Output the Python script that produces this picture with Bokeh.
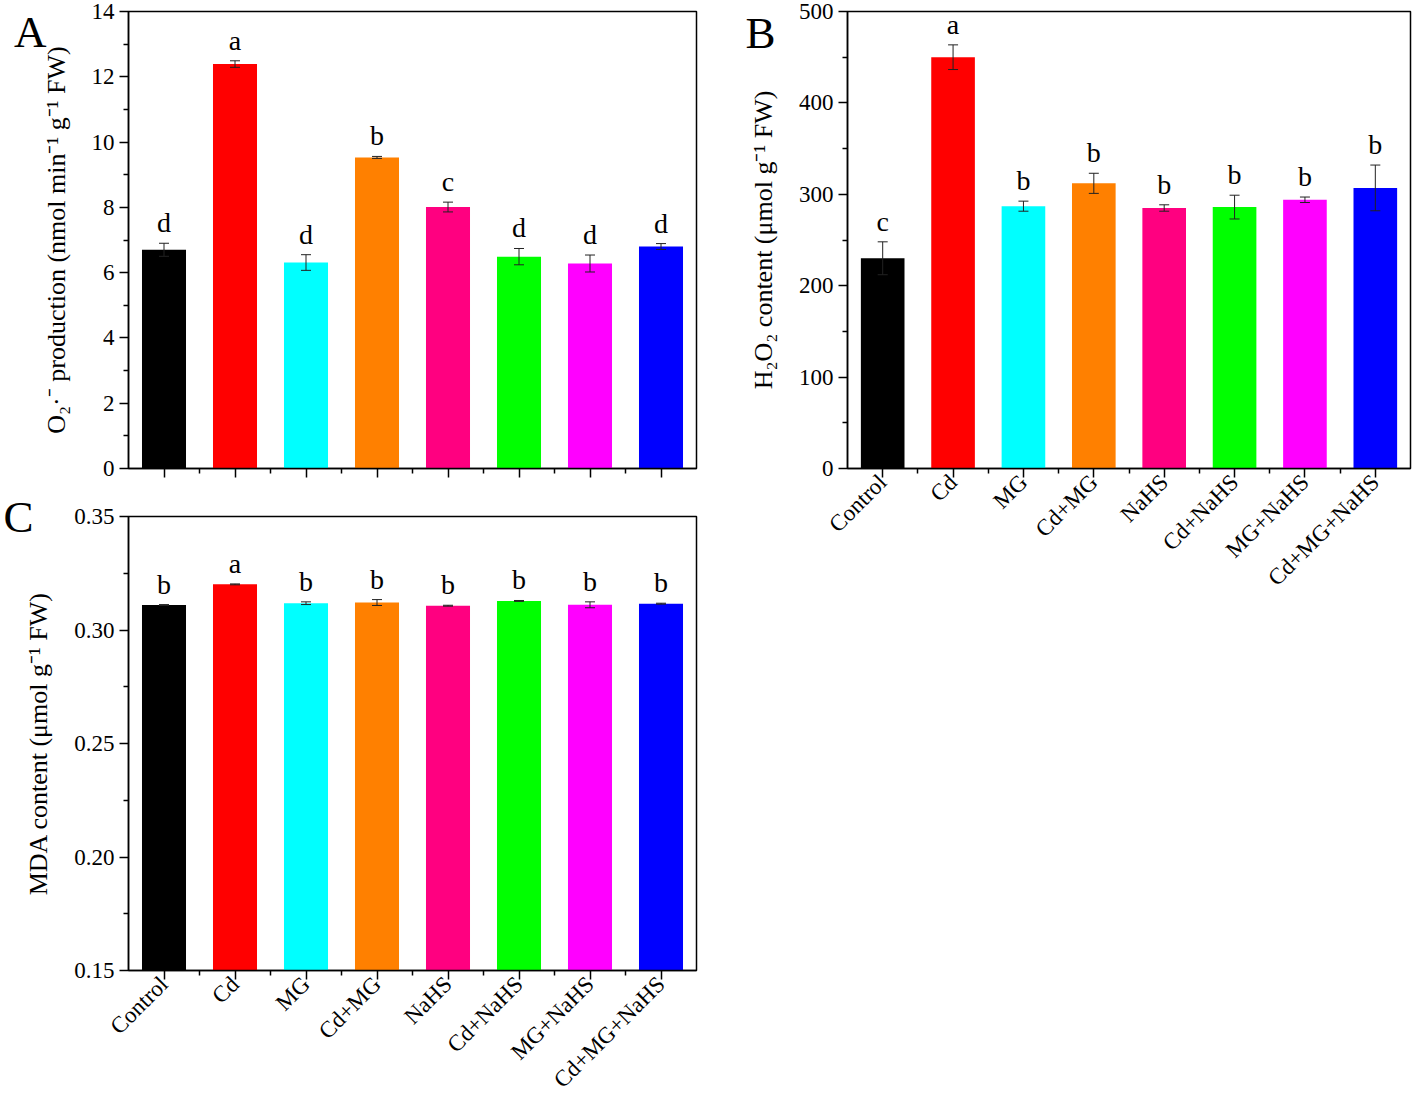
from bokeh.plotting import figure
from bokeh.layouts import row, column
from bokeh.models import (ColumnDataSource, Range1d, FixedTicker, Whisker, TeeHead,
                          LinearAxis, NumeralTickFormatter)
from bokeh.core.properties import value
from bokeh.embed import file_html
from bokeh.resources import INLINE

# ---------------- data ----------------
categories = ["Control", "Cd", "MG", "Cd+MG", "NaHS", "Cd+NaHS", "MG+NaHS", "Cd+MG+NaHS"]
bar_colors = ["#000000", "#FF0000", "#00FFFF", "#FF8000", "#FF0080", "#00FF00", "#FF00FF", "#0000FF"]

o2_mean = [6.70, 12.39, 6.31, 9.53, 8.01, 6.49, 6.28, 6.80]
o2_err = [0.20, 0.10, 0.24, 0.03, 0.15, 0.25, 0.26, 0.09]
o2_letters = ["d", "a", "d", "b", "c", "d", "d", "d"]

h2o2_mean = [230, 450, 287, 312, 285, 286, 294, 307]
h2o2_err = [18, 13.5, 5.5, 11, 3.5, 13, 3, 25]
h2o2_letters = ["c", "a", "b", "b", "b", "b", "b", "b"]

mda_mean = [0.3110, 0.3201, 0.3118, 0.3121, 0.3107, 0.3128, 0.3111, 0.3116]
mda_err = [0.0002, 0.0002, 0.0006, 0.0013, 0.0002, 0.0002, 0.0013, 0.0002]
mda_letters = ["b", "a", "b", "b", "b", "b", "b", "b"]

o2_ticks = [0, 2, 4, 6, 8, 10, 12, 14]
o2_minor = [1, 3, 5, 7, 9, 11, 13]
h2o2_ticks = [0, 100, 200, 300, 400, 500]
h2o2_minor = [50, 150, 250, 350, 450]
mda_ticks = [0.15, 0.20, 0.25, 0.30, 0.35]
mda_minor = [0.175, 0.225, 0.275, 0.325]

x_pos = [1, 2, 3, 4, 5, 6, 7, 8]
x_minor = [1.5, 2.5, 3.5, 4.5, 5.5, 6.5, 7.5]

FONT = "Liberation Serif"


def panel(width, height, bl, br, bt, bb, ylo, yhi, yticks, yminor, ylabel, label_standoff,
          mean, err, letters, panel_txt, panel_pos, panel_standoff, show_x, fmt=None):
    p = figure(width=width, height=height, output_backend="svg", toolbar_location=None,
               x_range=Range1d(0.5, 8.5), y_range=Range1d(ylo, yhi),
               min_border_left=bl, min_border_right=br, min_border_top=bt, min_border_bottom=bb)
    src = ColumnDataSource(dict(
        x=x_pos, top=mean,
        upper=[m + e for m, e in zip(mean, err)],
        lower=[m - e for m, e in zip(mean, err)],
        color=bar_colors, letter=letters))
    p.vbar(x="x", top="top", bottom=ylo, width=0.62, fill_color="color",
           line_color=None, source=src)
    head = dict(size=10, line_color="#222222", line_width=1)
    p.add_layout(Whisker(source=src, base="x", upper="upper", lower="lower",
                         level="annotation", line_color="#222222", line_width=1,
                         upper_head=TeeHead(**head), lower_head=TeeHead(**head)))
    p.text(x="x", y="upper", text="letter", source=src, text_align="center",
           text_baseline="bottom", y_offset=-5, text_font=value(FONT),
           text_font_size="28px", text_color="black")

    p.grid.visible = False
    p.outline_line_color = "black"
    p.outline_line_width = 1.5
    p.outline_line_alpha = 1.0

    for ax in (p.xaxis[0], p.yaxis[0]):
        ax.axis_line_width = 1.5
        ax.major_tick_line_width = 1.5
        ax.minor_tick_line_width = 1.5
        ax.major_tick_in = 0
        ax.major_tick_out = 9
        ax.minor_tick_in = 0
        ax.minor_tick_out = 5
        ax.major_label_text_font = FONT
        ax.major_label_text_color = "black"
        ax.axis_label_text_font = FONT
        ax.axis_label_text_font_style = "normal"
        ax.axis_label_text_color = "black"

    xa = p.xaxis[0]
    xa.ticker = FixedTicker(ticks=x_pos, minor_ticks=x_minor)
    if show_x:
        xa.major_label_overrides = {x: c for x, c in zip(x_pos, categories)}
        xa.major_label_text_font_size = "23px"
        xa.major_label_orientation = 0.7854
        xa.major_label_standoff = 1
    else:
        xa.major_label_overrides = {x: "" for x in x_pos}
        xa.major_label_text_font_size = "2px"
        xa.major_label_standoff = 0

    ya = p.yaxis[0]
    ya.ticker = FixedTicker(ticks=yticks, minor_ticks=yminor)
    ya.major_label_text_font_size = "23px"
    ya.major_label_standoff = 5
    ya.axis_label = ylabel
    ya.axis_label_text_font_size = "26px"
    ya.axis_label_standoff = label_standoff
    if fmt:
        ya.formatter = NumeralTickFormatter(format=fmt)

    # panel letter, drawn as the only label of an outer left axis
    la = LinearAxis(ticker=FixedTicker(ticks=[panel_pos], minor_ticks=[]),
                    major_label_overrides={panel_pos: panel_txt},
                    axis_line_color=None, major_tick_line_color=None,
                    minor_tick_line_color=None, major_tick_in=0, major_tick_out=0,
                    minor_tick_in=0, minor_tick_out=0, major_label_standoff=panel_standoff,
                    major_label_text_font=FONT, major_label_text_font_size="45px",
                    major_label_text_color="black")
    p.add_layout(la, "left")
    return p


W_LEFT = 712
pA = panel(W_LEFT, 481, 125, W_LEFT - 696, 11, 13, 0, 14, o2_ticks, o2_minor,
           "O₂·⁻ production (nmol min⁻¹ g⁻¹ FW)", 18, o2_mean, o2_err, o2_letters,
           "A", 13.36, -8, False)
pC = panel(W_LEFT, 623, 127, W_LEFT - 698, 35, 129, 0.15, 0.35, mda_ticks, mda_minor,
           "MDA content (μmol g⁻¹ FW)", 18, mda_mean, mda_err, mda_letters,
           "C", 0.35, -12, True, "0.00")
pB = panel(1415 - W_LEFT, 648, 847 - W_LEFT, 5, 11, 180, 0, 500, h2o2_ticks, h2o2_minor,
           "H₂O₂ content (μmol g⁻¹ FW)", 18, h2o2_mean, h2o2_err, h2o2_letters,
           "B", 477, -30, True)

layout = row(column(pA, pC), pB)
open("out.html", "w").write(file_html(layout, INLINE))
